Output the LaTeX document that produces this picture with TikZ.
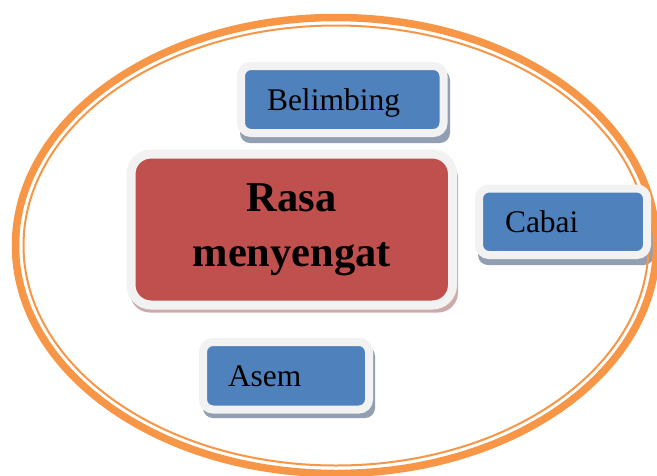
\documentclass[tikz,border=0pt]{standalone}
\usepackage{fontspec}
\setmainfont{Liberation Serif}
\usetikzlibrary{backgrounds}
\definecolor{orng}{HTML}{F79646}
\definecolor{bluefill}{HTML}{4F81BD}
\definecolor{redfill}{HTML}{C0504D}
\definecolor{ringcol}{HTML}{F2F2F2}
\definecolor{bshadow}{HTML}{929FB3}
\definecolor{rshadow}{HTML}{CDABAB}
\begin{document}
\begin{tikzpicture}[x=1pt,y=-1pt,
  itembox/.style={fill=bluefill, draw=ringcol, line width=8pt, rounded corners=10pt,
    outer sep=0pt, inner ysep=0pt, align=left, text height=21pt, text depth=0pt,
    font=\fontsize{31.5}{36}\selectfont},
  mainbox/.style={fill=redfill, draw=ringcol, line width=9pt, rounded corners=20pt,
    outer sep=0pt, inner sep=0pt, align=center,
    font=\bfseries\fontsize{42.5}{55}\selectfont},
  bshad/.style={fill=bshadow, rounded corners=10pt},
  rshad/.style={fill=rshadow, rounded corners=20pt},
  ring/.style={draw=orng}]
\useasboundingbox (0,0) rectangle (657,475);
% ellipse
\draw[ring, line width=7.5pt] (336,245.5) ellipse [x radius=320.5, y radius=228];
\draw[ring, line width=2pt] (336,245.5) ellipse [x radius=312.5, y radius=220];
% boxes
\node[itembox, text width=150.5pt, inner xsep=26pt, minimum height=67pt] (bel) at (342.25,99.5) {Belimbing};
\node[mainbox, minimum width=321.5pt, minimum height=151pt] (rasa) at (291.75,229.5) {Rasa\\menyengat};
\node[itembox, text width=116pt, inner xsep=26pt, minimum height=66.5pt] (cab) at (563,221.75) {Cabai};
\node[itembox, text width=116pt, inner xsep=25pt, minimum height=67.5pt] (asem) at (286,375.75) {Asem};
\begin{scope}[on background layer]
\fill[white] (0,0) rectangle (657,475);
\fill[bshad] ([shift={(-1,10)}]bel.south west) rectangle ([shift={(6.5,4)}]bel.north east);
\fill[rshad] ([shift={(-1,7.5)}]rasa.south west) rectangle ([shift={(5.5,4)}]rasa.north east);
\fill[bshad] ([shift={(-1,10)}]cab.south west) rectangle ([shift={(7,4)}]cab.north east);
\fill[bshad] ([shift={(0,8.5)}]asem.south west) rectangle ([shift={(6,4)}]asem.north east);
\end{scope}
\end{tikzpicture}
\end{document}
